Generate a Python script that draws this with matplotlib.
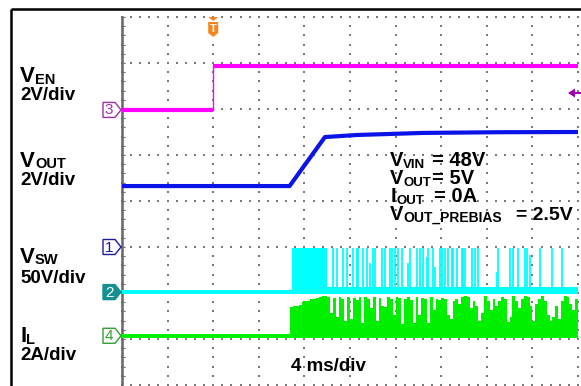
import matplotlib
matplotlib.use('Agg')
import matplotlib.pyplot as plt
import numpy as np
from matplotlib.patches import Polygon

plt.rcParams['font.family'] = ['Liberation Sans', 'DejaVu Sans']

# scope setup: 4 ms/div, 10 x 8 divisions
ms_per_div = 4
n_xdiv, n_ydiv = 10, 8
trig_t = 8.0

# channel ground (div from bottom) and scale (units/div)
ven_off, ven_scale = 5.98, 2      # CH3, V/div
vout_off, vout_scale = 3.0, 2     # CH1, V/div
vsw_off, vsw_scale = 2.02, 50     # CH2, V/div
il_off, il_scale = 1.07, 2        # CH4, A/div

# EN pin (V)
ven_t = [0, 8.0, 8.0, 40]
ven_v = [0.0, 0.0, 1.9, 1.9]

# output voltage (V), starts from the 2.5 V prebias
vout_t = [0, 14.7, 17.8, 20.6, 26.4, 33.0, 40]
vout_v = [2.65, 2.65, 4.78, 4.87, 4.96, 4.99, 5.0]

# switch node (V)
vsw_start = 14.9
vsw_burst_end = 18.0
vsw_high = 48
vsw_noise = (-2.0, 6.0)
vsw_spike_t = [18.51, 18.86, 19.39, 19.74, 20.26, 20.61, 20.70, 21.14, 21.49, 21.75,
               22.02, 22.19, 22.81, 23.07, 23.51, 23.68, 23.95, 24.21, 24.56, 25.09,
               25.26, 25.88, 26.14, 26.40, 26.75, 26.84, 27.28, 27.46, 27.89, 28.07,
               28.33, 28.60, 28.95, 29.04, 29.39, 29.82, 29.91, 30.09, 30.70, 30.96,
               31.23, 32.89, 32.98, 34.04, 34.30, 34.74, 35.35, 35.53, 35.79, 36.67,
               37.72, 38.60]
vsw_spike_v = [48, 48, 48, 48, 48, 48, 48, 48, 48, 32,
               48, 48, 48, 48, 48, 48, 48, 48, 48, 32,
               48, 48, 48, 48, 38, 48, 48, 27, 48, 48,
               48, 48, 48, 48, 48, 48, 48, 48, 48, 48,
               48, 22, 48, 48, 48, 48, 48, 48, 40, 48,
               48, 48]

# inductor current peaks (A), one value per 0.25 ms from 14.75 ms
il_t0 = 14.75
il_dt = 0.25
il_peak = [1.25, 1.3, 1.3, 1.35, 1.45, 1.5, 1.52, 1.58, 1.62, 1.66, 1.7, 1.72, 1.74,
           1.7, 1.0, 1.65, 0.8, 1.7, 1.6, 0.65, 1.7, 0.75, 1.65,
           1.55, 1.7, 0.55, 1.7, 1.6, 1.2, 1.7, 0.65, 1.65, 1.3,
           1.25, 1.7, 1.6, 0.9, 1.7, 1.65, 0.5, 1.6, 1.7, 1.55,
           0.55, 1.7, 0.9, 1.65, 1.6, 0.55, 1.7, 1.1, 1.6,
           1.55, 1.65, 1.6, 0.9, 0.75, 1.5, 1.6, 1.4, 1.7, 1.75,
           1.7, 1.2, 1.5, 1.3, 0.65, 1.0, 1.72, 1.5, 1.1, 1.6,
           1.3, 1.5, 1.7, 1.6, 0.6, 0.8, 1.72, 1.5, 1.2, 1.6,
           1.74, 1.7, 1.3, 0.65, 1.4, 1.6, 1.74, 1.5, 0.9, 0.65,
           0.8, 1.3, 0.75, 1.5, 1.72, 1.7, 1.4, 1.1, 1.6]

c_ven = '#ff00ff'
c_vout = '#0a14e8'
c_vsw = '#00ffff'
c_il = '#00f000'

W, H = 581, 386
fig = plt.figure(figsize=(W / 100, H / 100), dpi=100)
fig.patch.set_facecolor('white')

# graticule axes: x in ms, y in divisions
ax = fig.add_axes([122 / W, 1 / H, 456 / W, 368 / H])
ax.set_xlim(0, ms_per_div * n_xdiv)
ax.set_ylim(0, n_ydiv)
ax.axis('off')

t_end = ms_per_div * n_xdiv
# dotted grid
for i in range(n_xdiv + 1):
    yy = np.arange(0, n_ydiv + 0.001, 0.2)
    ax.scatter(np.full_like(yy, i * ms_per_div), yy, s=1.6, marker='s', c='#7a7a7a',
               linewidths=0, zorder=1, clip_on=False)
for j in range(n_ydiv + 1):
    xx = np.arange(0, t_end + 0.001, ms_per_div / 5)
    ax.scatter(xx, np.full_like(xx, j), s=1.6, marker='s', c='#7a7a7a',
               linewidths=0, zorder=1, clip_on=False)
ax.plot([0, 0], [0, n_ydiv], color='#666666', lw=1.8, zorder=2, clip_on=False)
ax.hlines(np.arange(0, n_ydiv + 0.001, 0.2), 0.1, 0.3, color='#666666', lw=0.8, zorder=2)

# CH3 EN
ven_y = [ven_off + v / ven_scale for v in ven_v]
ax.plot(ven_t, ven_y, color=c_ven, lw=1.0, zorder=5)
ax.plot(ven_t[:2], ven_y[:2], color=c_ven, lw=3.0, zorder=5, solid_capstyle='butt')
ax.plot(ven_t[2:], ven_y[2:], color=c_ven, lw=3.0, zorder=5, solid_capstyle='butt')

# CH1 VOUT
ax.plot(vout_t, [vout_off + v / vout_scale for v in vout_v], color=c_vout, lw=3.0,
        zorder=5, solid_capstyle='butt')

# CH2 SW
ax.plot([0, t_end], [vsw_off, vsw_off], color=c_vsw, lw=2.8, zorder=4, solid_capstyle='butt')
ax.fill_between([vsw_start, t_end], vsw_off + vsw_noise[0] / vsw_scale,
                vsw_off + vsw_noise[1] / vsw_scale, color=c_vsw, lw=0, zorder=4)
ax.fill_between([vsw_start, vsw_burst_end], vsw_off, vsw_off + vsw_high / vsw_scale,
                color=c_vsw, lw=0, zorder=4)
ax.vlines(vsw_spike_t, vsw_off, [vsw_off + v / vsw_scale for v in vsw_spike_v],
          color=c_vsw, lw=1.3, zorder=4)

# CH4 IL
il_t = il_t0 + il_dt * np.arange(len(il_peak))
ax.plot([0, t_end], [il_off, il_off], color=c_il, lw=2.8, zorder=4, solid_capstyle='butt')
ax.bar(il_t, [p / il_scale for p in il_peak], width=il_dt, bottom=il_off, align='edge',
       color=c_il, linewidth=0, zorder=4)

# overlay in pixel units for frame, labels and markers
ov = fig.add_axes([0, 0, 1, 1], zorder=10)
ov.set_xlim(0, W)
ov.set_ylim(H, 0)
ov.axis('off')
ov.patch.set_alpha(0)

ov.plot([11, W], [9, 9], color='black', lw=1.8, solid_capstyle='butt')
ov.plot([11, 11], [9, H], color='black', lw=1.8, solid_capstyle='butt')

renderer = fig.canvas.get_renderer()


def put(x, y, parts):
    for s, size, dy in parts:
        t = ov.text(x, y + dy, s, fontsize=size, fontweight='bold', va='baseline', ha='left')
        x += t.get_window_extent(renderer).width


def div_px(d):
    return 385 - d * 46


# channel names
put(20, 82, [('V', 16, 0), ('EN', 10.5, 1.5)])
ov.text(20, 100, '2V/div', fontsize=13.5, fontweight='bold', va='baseline')
put(20, 167, [('V', 16, 0), ('OUT', 10.5, 1.5)])
ov.text(20, 185, '2V/div', fontsize=13.5, fontweight='bold', va='baseline')
put(20, 263, [('V', 16, 0), ('SW', 10.5, 1.5)])
ov.text(20, 283, '50V/div', fontsize=13.5, fontweight='bold', va='baseline')
put(20, 342, [('I', 16, 0), ('L', 10.5, 1.5)])
ov.text(20, 360, '2A/div', fontsize=13.5, fontweight='bold', va='baseline')
ov.text(291, 371, '4 ms/div', fontsize=13.5, fontweight='bold', va='baseline')

# test conditions
put(390, 166, [('V', 14.5, 0), ('VIN', 9.5, 2)])
ov.text(432, 166, '= 48V', fontsize=14.5, fontweight='bold', va='baseline')
put(390, 184, [('V', 14.5, 0), ('OUT', 9.5, 2)])
ov.text(432, 184, '= 5V', fontsize=14.5, fontweight='bold', va='baseline')
put(391, 202, [('I', 14.5, 0), ('OUT', 9.5, 2)])
ov.text(434, 202, '= 0A', fontsize=14.5, fontweight='bold', va='baseline')
put(390, 220, [('V', 14.5, 0), ('OUT_PREBIAS', 10, 2)])
ov.text(516, 220, '= 2.5V', fontsize=14, fontweight='bold', va='baseline')


# channel ground markers
def marker(d, label, edge, face, tc):
    y = div_px(d)
    pts = [(103, y - 7.5), (115, y - 7.5), (121, y), (115, y + 7.5), (103, y + 7.5)]
    ov.add_patch(Polygon(pts, closed=True, facecolor=face, edgecolor=edge, lw=1.0))
    ov.text(109, y + 0.5, label, fontsize=11, color=tc, ha='center', va='center')


marker(ven_off, '3', '#a030a8', 'white', '#a030a8')
marker(vout_off, '1', '#1c1ca0', 'white', '#1c1ca0')
marker(vsw_off, '2', '#14908f', '#14908f', 'white')
marker(il_off, '4', '#30a030', 'white', '#30a030')

# trigger position marker
tx = 122 + trig_t / (ms_per_div * n_xdiv) * 456
c_trig = '#f7861c'
ov.add_patch(Polygon([(tx - 5, 17), (tx + 5, 17), (tx, 21)], closed=True, facecolor=c_trig, lw=0))
ov.add_patch(Polygon([(tx - 5, 22), (tx + 5, 22), (tx + 5, 33), (tx, 37), (tx - 5, 33)],
                     closed=True, facecolor=c_trig, lw=0))
ov.text(tx, 29, 'T', fontsize=8, fontweight='bold', color='white', ha='center', va='center')

# trigger level arrow
c_lvl = '#a000b4'
ov.add_patch(Polygon([(568, 93), (575, 88.5), (575, 97.5)], closed=True, facecolor=c_lvl, lw=0))
ov.plot([574, W], [93, 93], color=c_lvl, lw=1.5)

fig.savefig('out.png', dpi=100)
